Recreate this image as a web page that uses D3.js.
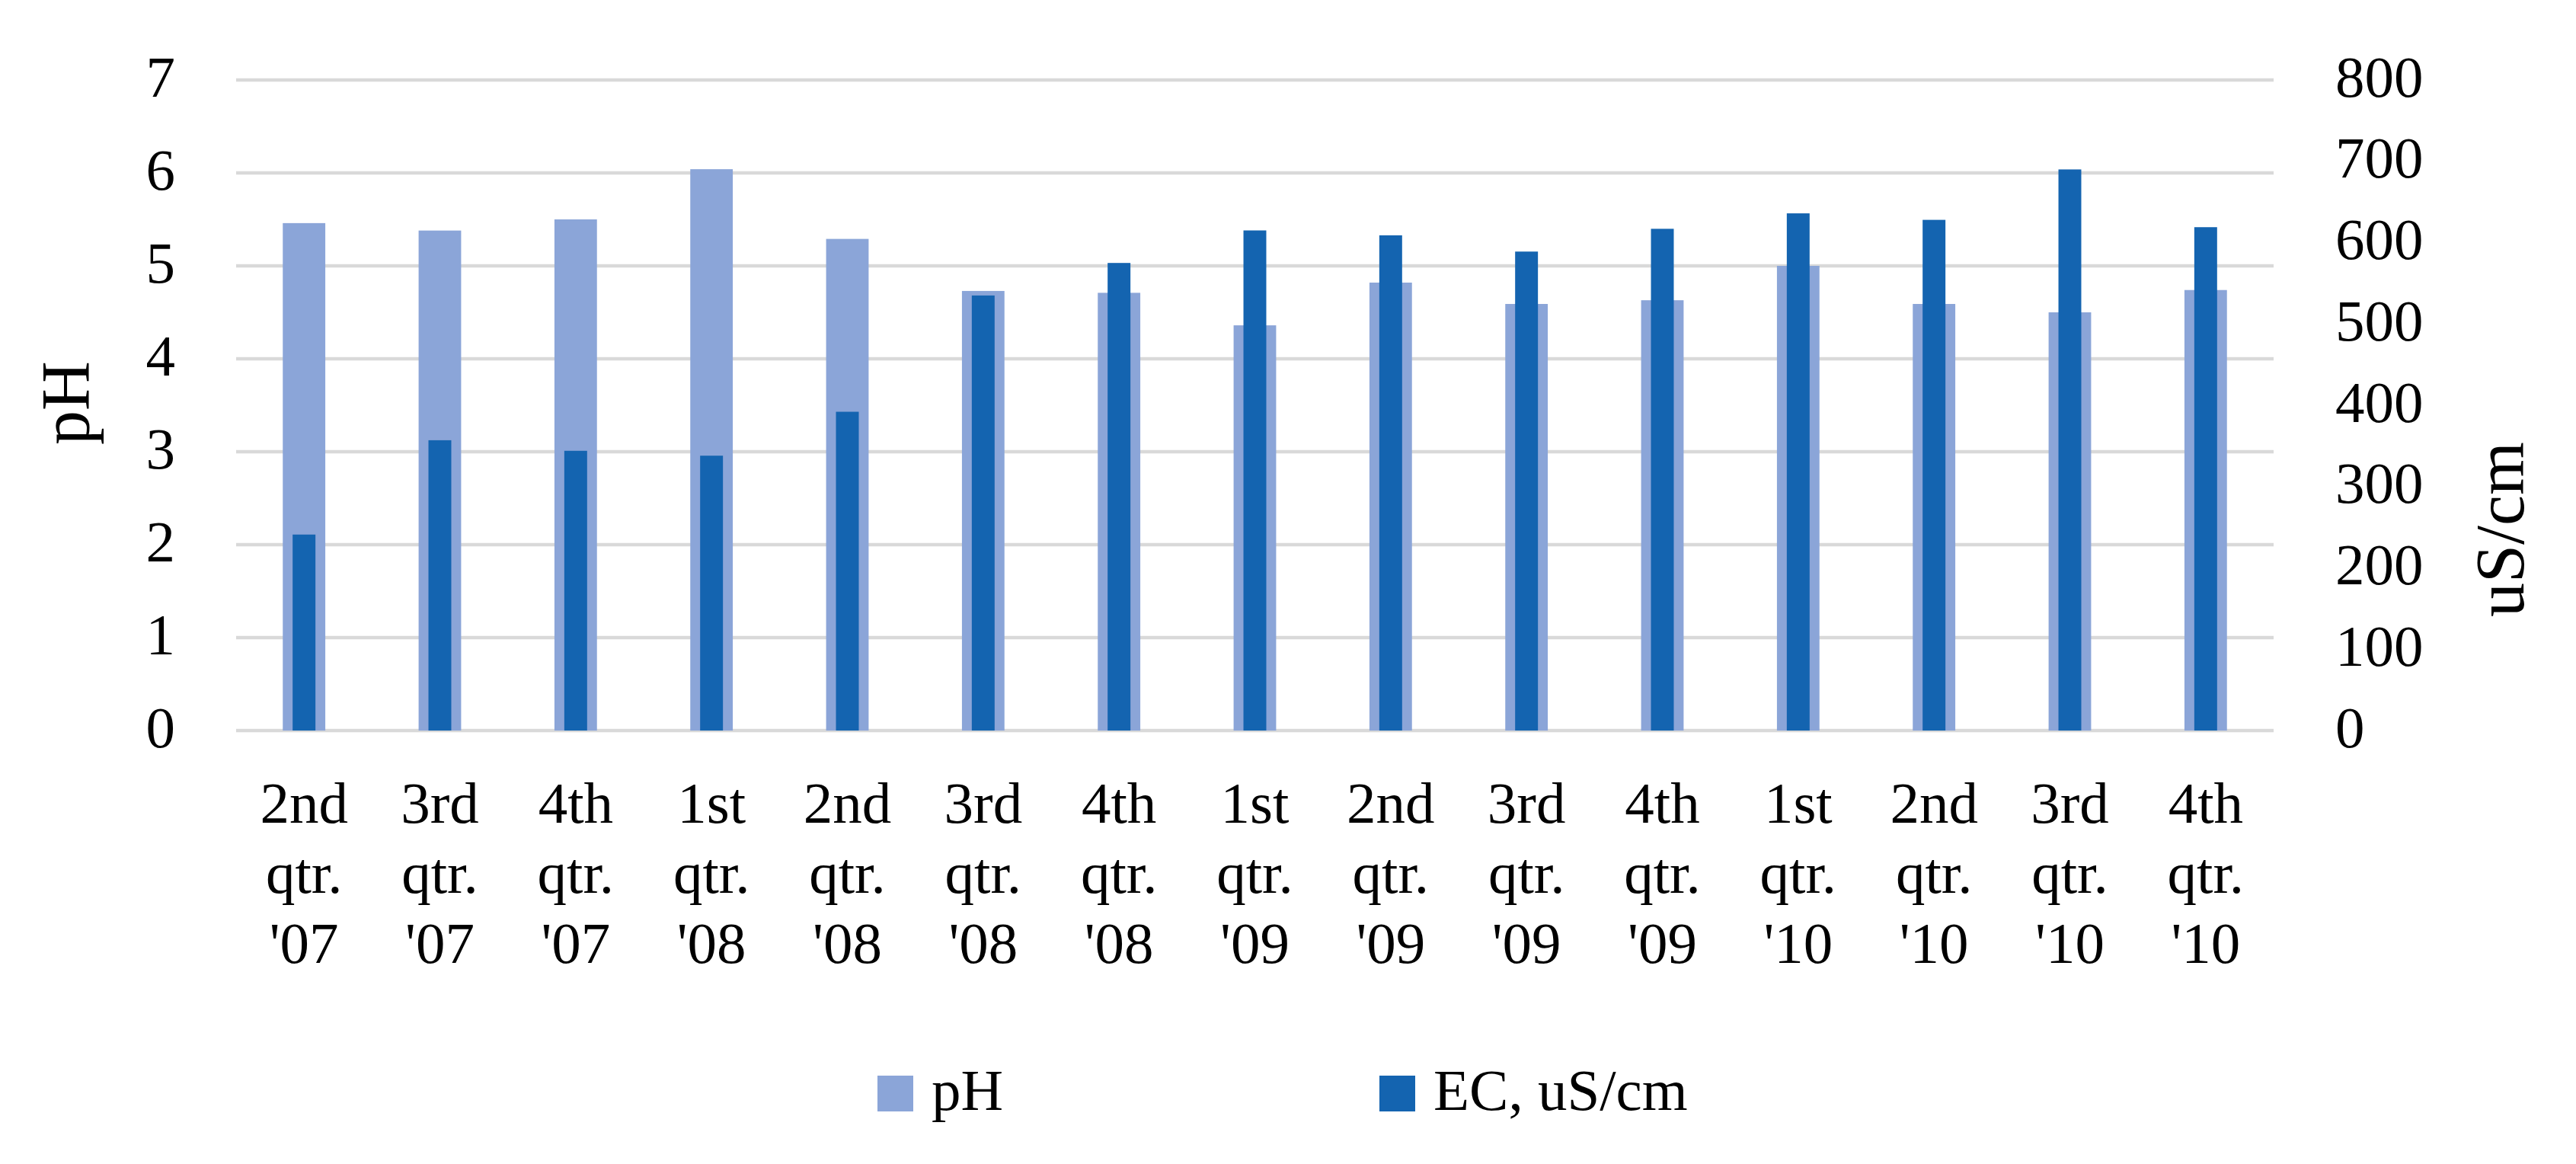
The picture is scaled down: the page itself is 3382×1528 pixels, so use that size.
<!DOCTYPE html>
<html>
<head>
<meta charset="utf-8">
<script src="https://cdn.jsdelivr.net/npm/d3@7"></script>
<style>
  html, body { margin: 0; padding: 0; background: #fff; }
  svg { display: block; }
  text { font-family: "Liberation Serif", "DejaVu Serif", serif; fill: #000; }
</style>
</head>
<body>
<script>
const quarters = ["2nd", "3rd", "4th", "1st", "2nd", "3rd", "4th", "1st", "2nd", "3rd", "4th", "1st", "2nd", "3rd", "4th"];
const years = ["'07", "'07", "'07", "'08", "'08", "'08", "'08", "'09", "'09", "'09", "'09", "'10", "'10", "'10", "'10"];
const categories = quarters.map((q, i) => q + " qtr. " + years[i]);
const phValues = [5.46, 5.38, 5.50, 6.04, 5.29, 4.73, 4.71, 4.36, 4.82, 4.59, 4.63, 5.00, 4.59, 4.50, 4.74];
const ecValues = [241, 357, 344, 338, 392, 535, 575, 615, 609, 589, 617, 636, 628, 690, 619];
const phTicks = [0, 1, 2, 3, 4, 5, 6, 7];
const ecTicks = [0, 100, 200, 300, 400, 500, 600, 700, 800];
const seriesNames = ["pH", "EC, uS/cm"];
const colors = ["#8BA5D8", "#1464B0"];

(function () {
const W = 3382, H = 1528;
const pLeft = 310, pRight = 2985, pTop = 105, pBottom = 959;
const fs = 77;

const svg = d3.select("body").append("svg").attr("width", W).attr("height", H);

const x = d3.scaleBand().domain(d3.range(categories.length)).range([pLeft, pRight]).padding(0);
const yL = d3.scaleLinear().domain([0, 7]).range([pBottom, pTop]);
const yR = d3.scaleLinear().domain([0, 800]).range([pBottom, pTop]);

// gridlines
svg.append("g").selectAll("line").data(phTicks).join("line")
  .attr("x1", pLeft).attr("x2", pRight)
  .attr("y1", d => yL(d)).attr("y2", d => yL(d))
  .attr("stroke", "#D9D9D9").attr("stroke-width", 4.5);

const bw = x.bandwidth();
const phW = bw * 0.313, ecW = bw * 0.168;

// pH bars
svg.append("g").selectAll("rect").data(phValues).join("rect")
  .attr("x", (d, i) => x(i) + bw / 2 - phW / 2)
  .attr("width", phW)
  .attr("y", d => yL(d))
  .attr("height", d => yL(0) - yL(d))
  .attr("fill", colors[0]);

// EC bars
svg.append("g").selectAll("rect").data(ecValues).join("rect")
  .attr("x", (d, i) => x(i) + bw / 2 - ecW / 2)
  .attr("width", ecW)
  .attr("y", d => yR(d))
  .attr("height", d => yR(0) - yR(d))
  .attr("fill", colors[1]);

// left axis labels
const leftAxis = d3.axisLeft(yL).tickValues(phTicks).tickSize(0).tickPadding(0).tickFormat(d3.format("d"));
const gl = svg.append("g").attr("transform", "translate(230,0)").call(leftAxis);
gl.select(".domain").remove();
gl.selectAll("text").attr("font-size", fs).attr("font-family", "Liberation Serif").attr("dy", null).attr("y", 21).attr("x", 0).attr("fill", "#000");

// right axis labels
const rightAxis = d3.axisRight(yR).tickValues(ecTicks).tickSize(0).tickPadding(0).tickFormat(d3.format("d"));
const gr = svg.append("g").attr("transform", "translate(3066,0)").call(rightAxis);
gr.select(".domain").remove();
gr.selectAll("text").attr("font-size", fs).attr("font-family", "Liberation Serif").attr("dy", null).attr("y", 21).attr("x", 0).attr("fill", "#000");

// category labels (3 lines)
const cg = svg.append("g");
categories.forEach((c, i) => {
  const cx = x(i) + bw / 2;
  const t = cg.append("text").attr("text-anchor", "middle").attr("font-size", fs);
  [quarters[i], "qtr.", years[i]].forEach((s, k) => {
    t.append("tspan").attr("x", cx).attr("y", 1080 + k * 92).text(s);
  });
});

// axis titles
svg.append("text").attr("transform", "translate(117,529) rotate(-90)")
  .attr("text-anchor", "middle").attr("font-size", 90).text("pH");
svg.append("text").attr("transform", "translate(3313,695) rotate(-90)")
  .attr("text-anchor", "middle").attr("font-size", 90).text("uS/cm");

// legend
const legendX = [1152, 1811];
const lg = svg.append("g");
seriesNames.forEach((n, i) => {
  lg.append("rect").attr("x", legendX[i]).attr("y", 1412).attr("width", 47).attr("height", 47).attr("fill", colors[i]);
  lg.append("text").attr("x", legendX[i] + 71).attr("y", 1457).attr("font-size", fs).text(n);
});
})();
</script>
</body>
</html>
